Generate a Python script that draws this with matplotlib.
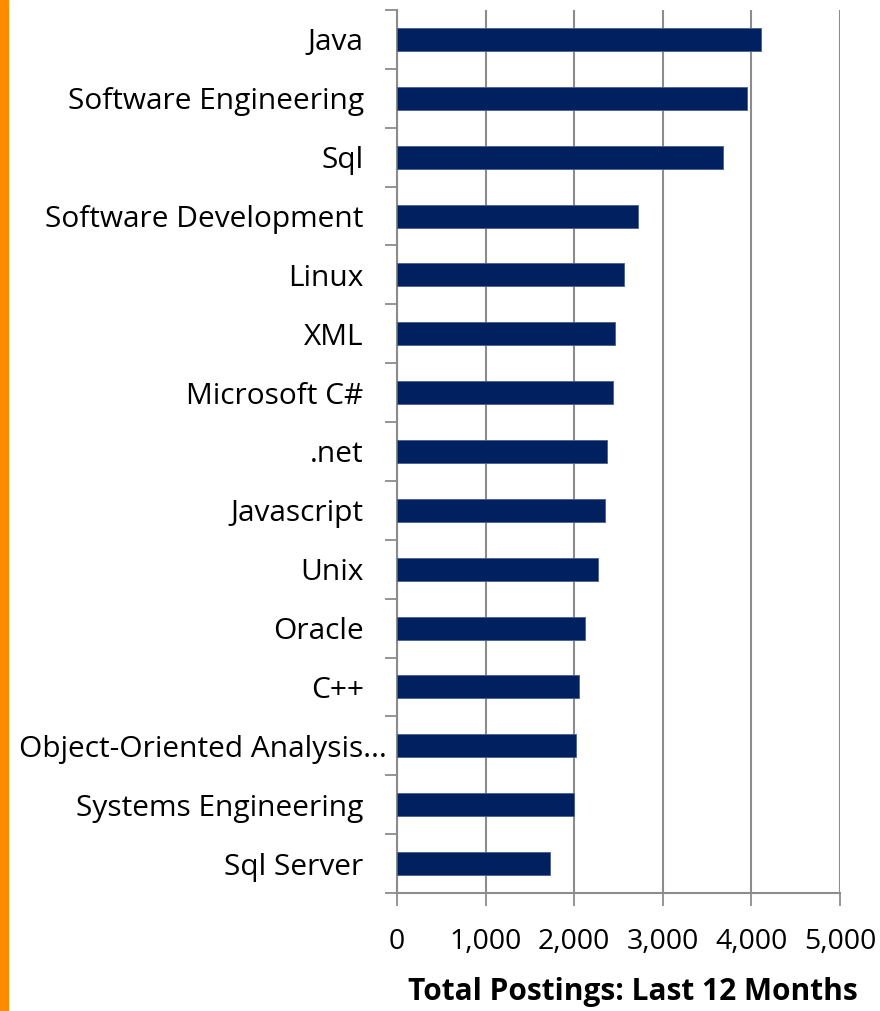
import matplotlib
matplotlib.use("Agg")
import matplotlib.pyplot as plt
from matplotlib.patches import Rectangle
from matplotlib.transforms import ScaledTranslation
import numpy as np

skills = ["Java", "Software Engineering", "Sql", "Software Development", "Linux",
          "XML", "Microsoft C#", ".net", "Javascript", "Unix", "Oracle", "C++",
          "Object-Oriented Analysis...", "Systems Engineering", "Sql Server"]
postings = [4113, 3947, 3680, 2720, 2560, 2455, 2440, 2370, 2350, 2270,
            2125, 2050, 2020, 2000, 1725]
xticks = [0, 1000, 2000, 3000, 4000, 5000]

NAVY = "#00205F"
GRID = "#8C8C8C"
ORANGE = "#FF8C00"

plt.rcParams["font.family"] = ["Open Sans", "DejaVu Sans"]

fig = plt.figure(figsize=(8.8, 10.11), dpi=100)
ax = fig.add_axes([397 / 880, 1 - 893 / 1011, 443 / 880, 883 / 1011])

y = np.arange(len(skills))
ax.barh(y, postings, height=0.39, color=NAVY, edgecolor="#4A5F8F",
        linewidth=0.6, zorder=3)

ax.set_ylim(len(skills) - 0.5, -0.5)
ax.set_xlim(0, 5000)

ax.set_yticks(y)
ax.set_yticklabels(skills, fontsize=21.5)
ax.set_yticks(np.arange(-0.5, len(skills) + 0.5, 1), minor=True)
ax.tick_params(axis="y", which="major", length=0, pad=24)
ax.tick_params(axis="y", which="minor", length=9, width=1.3, color=GRID)

# the truncated label sits closer to the axis in the original
long_lbl = ax.get_yticklabels()[12]
long_lbl.set_transform(long_lbl.get_transform()
                       + ScaledTranslation(0.23, 0, fig.dpi_scale_trans))

ax.set_xticks(xticks)
ax.set_xticklabels([f"{v:,}" for v in xticks], fontsize=20.5)
ax.tick_params(axis="x", length=9, width=1.3, color=GRID, pad=16)

ax.grid(axis="x", color=GRID, linewidth=1.5, zorder=0)
for s in ["top", "right"]:
    ax.spines[s].set_visible(False)
for s in ["left", "bottom"]:
    ax.spines[s].set_color(GRID)
    ax.spines[s].set_linewidth(1.5)

fig.text(633 / 880, 1 - 992 / 1011, "Total Postings: Last 12 Months",
         ha="center", va="center", fontsize=21.5, fontweight="bold")

fig.patches.append(Rectangle((0, 0), 8 / 880, 1, transform=fig.transFigure,
                             color=ORANGE, zorder=0))

fig.savefig("out.png", dpi=100)
